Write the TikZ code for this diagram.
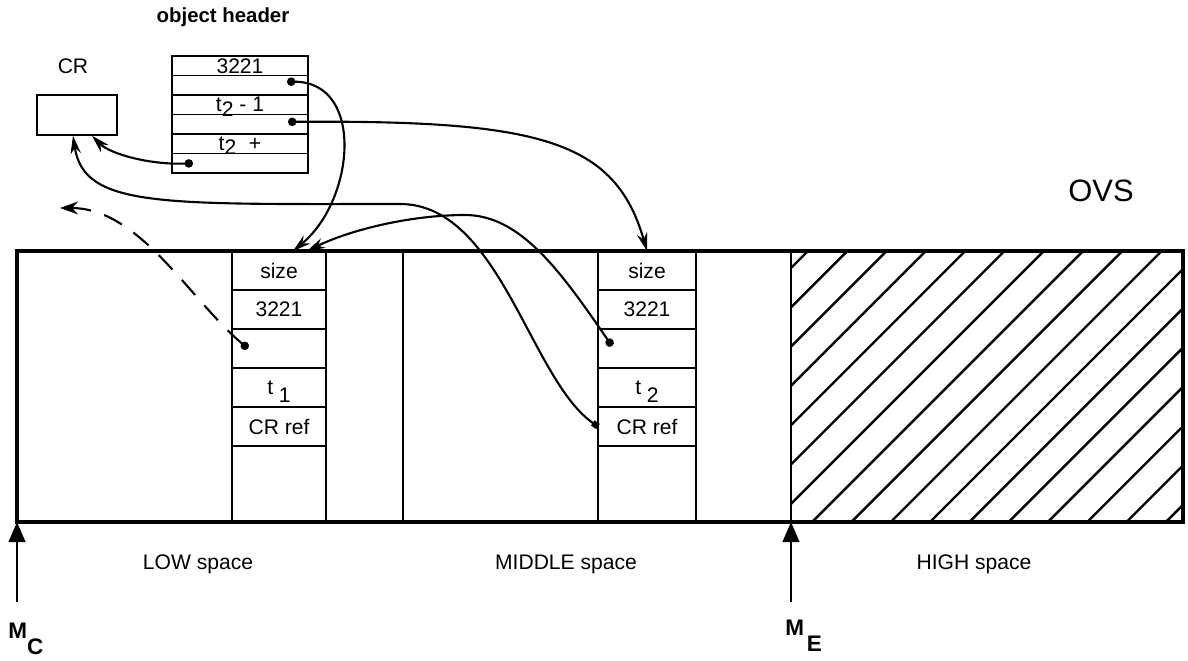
\documentclass[tikz,border=0pt]{standalone}
\usepackage{fontspec}
\setmainfont{Liberation Sans}
\usetikzlibrary{arrows.meta,positioning,calc}

\begin{document}
\begin{tikzpicture}[
  txt/.style={font=\fontsize{15}{18}\selectfont, inner sep=0pt},
  hdrrow/.style={rectangle, draw, line width=1.1pt, minimum width=3.4cm, minimum height=0.4875cm, inner sep=0pt, outer sep=0pt, font=\fontsize{15}{15}\selectfont},
  lowcell/.style={rectangle, draw, line width=1.1pt, minimum width=2.35cm, minimum height=0.975cm, inner sep=0pt, outer sep=0pt, font=\fontsize{15}{18}\selectfont},
  midcell/.style={lowcell, minimum width=2.45cm},
  colline/.style={line width=1.6pt},
  ptrarrow/.style={{Circle[length=6pt]}-{Stealth[length=4.5mm,width=2.6mm]}, line width=1.5pt},
  refarrow/.style={{Square[length=4.5pt]}-{Stealth[length=4.5mm,width=2.6mm]}, line width=1.5pt},
  markarrow/.style={-{Triangle[length=5mm,width=4.2mm]}, line width=1.2pt},
  spacelbl/.style={font=\fontsize{15}{18}\selectfont},
  marklbl/.style={font=\fontsize{16}{18}\selectfont\bfseries, inner sep=0pt, anchor=base west}
]

\useasboundingbox (0,0) rectangle (29.7,-16.5);

% OVS memory: corners and space borders
\coordinate (ovsnw) at (0.425,-6.275);
\coordinate (ovsse) at (29.575,-13.05);
\coordinate (lowmid) at (10.075,-6.275);
\coordinate (midhigh) at (19.775,-6.275);

% HIGH space hatching
\begin{scope}
  \clip (midhigh) rectangle (ovsse);
  \foreach \k in {0,...,16}
    \draw[line width=1.7pt] (13.425+\k*0.9825,-13.05) -- ++(6.775,6.775);
\end{scope}

\draw[line width=2.4pt] (ovsnw) rectangle (ovsse);
\draw[line width=2pt] (lowmid) -- (lowmid |- ovsse);
\draw[line width=2pt] (midhigh) -- (midhigh |- ovsse);

\node[font=\fontsize{22}{26}\selectfont] (ovs) at (27.525,-4.775) {OVS};

% object in LOW space
\node[lowcell, anchor=north] (lsize) at (6.975,-6.275) {size};
\node[lowcell, below=0pt of lsize] (l3221) {3221};
\node[lowcell, below=0pt of l3221] (lptr) {};
\node[lowcell, below=0pt of lptr] (lt) {t\hspace{4pt}\raisebox{-6pt}[0pt][0pt]{1}};
\node[lowcell, below=0pt of lt] (lcr) {CR ref};
\draw[colline] (lsize.north west) -- (lsize.north west |- ovsse);
\draw[colline] (lsize.north east) -- (lsize.north east |- ovsse);

% object in MIDDLE space
\node[midcell, anchor=north] (msize) at (16.175,-6.275) {size};
\node[midcell, below=0pt of msize] (m3221) {3221};
\node[midcell, below=0pt of m3221] (mptr) {};
\node[midcell, below=0pt of mptr] (mt) {t\hspace{4pt}\raisebox{-6pt}[0pt][0pt]{2}};
\node[midcell, below=0pt of mt] (mcr) {CR ref};
\draw[colline] (msize.north west) -- (msize.north west |- ovsse);
\draw[colline] (msize.north east) -- (msize.north east |- ovsse);

% space labels
\node[spacelbl] (lowlbl) at (4.95,-14.1) {LOW space};
\node[spacelbl] (midlbl) at (14.15,-14.1) {MIDDLE space};
\node[spacelbl] (highlbl) at (24.35,-14.1) {HIGH space};

% M_C and M_E markers
\coordinate (mc) at (0.425,-15.05);
\coordinate (me) at (19.775,-15.05);
\draw[markarrow] (mc) -- (mc |- ovsse);
\draw[markarrow] (me) -- (me |- ovsse);
\node[marklbl] (mclbl) at (0.2,-15.95) {M\raisebox{-12pt}{C}};
\node[marklbl] (melbl) at (19.625,-15.875) {M\hspace{2pt}\raisebox{-12pt}{E}};

% CR and object header
\node[txt] (crlbl) at (1.825,-1.65) {CR};
\node[draw, line width=1.1pt, minimum width=2cm, minimum height=1cm] (cr) at (1.925,-2.875) {};
\node[font=\fontsize{14.5}{17}\selectfont\bfseries] (ohlbl) at (5.575,-0.425) {object header};
\node[hdrrow, anchor=north] (hr1) at (6.0,-1.4) {3221};
\node[hdrrow, below=0pt of hr1] (hr2) {};
\node[hdrrow, below=0pt of hr2] (hr3) {t\raisebox{-3pt}[0pt][0pt]{2} - 1};
\node[hdrrow, below=0pt of hr3] (hr4) {};
\node[hdrrow, below=0pt of hr4] (hr5) {t\raisebox{-3pt}[0pt][0pt]{2}\hspace{9pt}+};
\node[hdrrow, below=0pt of hr5] (hr6) {};

% pointer dots
\coordinate (hd2) at ($(hr2.east)+(-0.525,0.09)$);
\coordinate (hd4) at ($(hr4.east)+(-0.5,0.06)$);
\coordinate (hd6) at ($(hr6.west)+(0.525,0)$);
\coordinate (lp) at ($(lptr.west)+(0.4,0)$);
\coordinate (mp) at ($(mptr.west)+(0.35,0.06)$);
\coordinate (crback) at (1.5,-5.2);

% pointers
\draw[ptrarrow] (hd2) .. controls (9.125,-2.05) and (8.875,-5.0) .. ($(lsize.north)+(0.35,0)$);
\draw[ptrarrow] (hd4) .. controls (13.5,-3.0) and (15.375,-3.5) .. (msize.north);
\draw[ptrarrow] (hd6) .. controls (3.75,-4.125) and (2.75,-3.85) .. ($(cr.south)+(0.375,0)$);
\draw[refarrow] (mcr.west) .. controls (13.25,-9.5) and (12.5,-5.1) .. (10.0,-5.1)
  .. controls (4.0,-5.1) and (2.1,-5.2) .. ($(cr.south)+(-0.1,0)$);
\draw[ptrarrow] (mp) .. controls (14.0,-6.75) and (13.0,-5.375) .. (11.625,-5.375)
  .. controls (10.25,-5.375) and (8.75,-5.75) .. ($(lsize.north)+(0.7,0)$);
\draw[ptrarrow, dash pattern=on 0.5cm off 0.35cm, {Circle[length=6pt]}-{Stealth[length=4.5mm,width=3.2mm]}]
  (lp) .. controls (4.75,-7.5) and (3.5,-5.2) .. (crback);

\end{tikzpicture}
\end{document}
